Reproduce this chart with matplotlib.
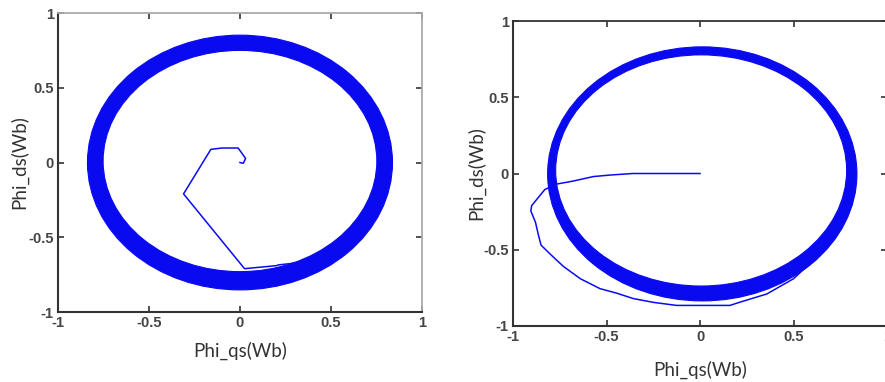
import numpy as np
import matplotlib
matplotlib.use("Agg")
import matplotlib.pyplot as plt
from matplotlib.patches import Ellipse

# ---- data ----
# flux ring band: outer and inner edge, as ellipse centre (x, y) and semi-axes (a, b)
left_outer_center = (0.0, 0.0)
left_outer_axes = (0.838, 0.852)
left_inner_center = (0.0, 0.01)
left_inner_axes = (0.752, 0.74)

right_outer_center = (0.012, -0.0025)
right_outer_axes = (0.827, 0.833)
right_inner_center = (0.006, 0.02)
right_inner_axes = (0.778, 0.758)

# start-up transients
left_path_x = [0.0, 0.018, 0.031, 0.013, -0.01, -0.05, -0.1, -0.16, -0.31, 0.025, 0.2, 0.21, 0.32]
left_path_y = [0.0, -0.005, 0.027, 0.058, 0.097, 0.097, 0.097, 0.088, -0.21, -0.71, -0.69, -0.685, -0.67]

right_path_x = [0.0, -0.36, -0.48, -0.57, -0.68, -0.77, -0.83, -0.90, -0.905, -0.88, -0.865,
                -0.85, -0.80, -0.73, -0.64, -0.535, -0.445, -0.357, -0.25, -0.125, 0.16,
                0.21, 0.357, 0.50, 0.64]
right_path_y = [0.0, 0.0, -0.01, -0.02, -0.05, -0.07, -0.105, -0.21, -0.245, -0.32, -0.40,
                -0.47, -0.53, -0.61, -0.69, -0.755, -0.785, -0.82, -0.845, -0.865, -0.865,
                -0.845, -0.79, -0.69, -0.53]

ticks = [-1, -0.5, 0, 0.5, 1]
tick_labels = ['-1', '-0.5', '0', '0.5', '1']
xlabel = 'Phi_qs(Wb)'
ylabel = 'Phi_ds(Wb)'

BLUE = '#0a0af0'

fig = plt.figure(figsize=(8.85, 3.82), dpi=100)
ax1 = fig.add_axes([0.0655, 0.1832, 0.4113, 0.7827])
ax2 = fig.add_axes([0.5797, 0.1466, 0.4226, 0.7984])


def ring(ax, oc, oa, ic, ia):
    ax.add_patch(Ellipse(oc, 2 * oa[0], 2 * oa[1], facecolor=BLUE, edgecolor=BLUE,
                         lw=0.8, zorder=2))
    ax.add_patch(Ellipse(ic, 2 * ia[0], 2 * ia[1], facecolor='white', edgecolor=BLUE,
                         lw=0.8, zorder=2.1))


def style(ax, top_dark, xlabpad, ylabpad):
    ax.set_xlim(-1, 1)
    ax.set_ylim(-1, 1)
    ax.set_xticks(ticks)
    ax.set_yticks(ticks)
    ax.set_xticklabels(tick_labels)
    ax.set_yticklabels(tick_labels)
    ax.tick_params(direction='in', length=4, width=1.2, top=True, right=True,
                   colors='#333333', labelsize=10.5, pad=3)
    for lab in ax.get_xticklabels() + ax.get_yticklabels():
        lab.set_fontfamily('Liberation Sans')
        lab.set_fontweight('bold')
        lab.set_color('#444444')
    for s in ['left', 'bottom']:
        ax.spines[s].set_color('#333333')
        ax.spines[s].set_linewidth(1.5)
    ax.spines['top'].set_color('#333333' if top_dark else '#aaaaaa')
    ax.spines['top'].set_linewidth(1.3)
    ax.spines['right'].set_color('#aaaaaa')
    ax.spines['right'].set_linewidth(1.3)
    ax.set_xlabel(xlabel, fontfamily='Lato', fontsize=13.5, color='#333333', labelpad=xlabpad)
    ax.set_ylabel(ylabel, fontfamily='Lato', fontsize=13.5, color='#333333', labelpad=ylabpad)


ring(ax1, left_outer_center, left_outer_axes, left_inner_center, left_inner_axes)
ax1.plot(left_path_x, left_path_y, color=BLUE, lw=1.1, zorder=3)
style(ax1, False, 8, 0)

ring(ax2, right_outer_center, right_outer_axes, right_inner_center, right_inner_axes)
ax2.plot(right_path_x, right_path_y, color=BLUE, lw=1.1, zorder=3)
style(ax2, True, 12, -1)

fig.savefig('out.png', dpi=100)
